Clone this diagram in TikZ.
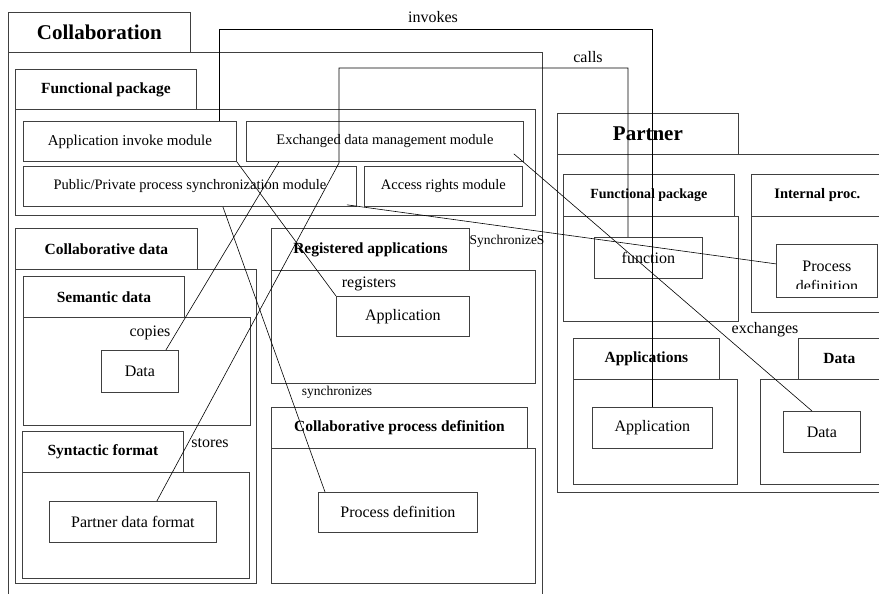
\documentclass[tikz,border=0pt]{standalone}
\usepackage{fontspec}
\setmainfont{Liberation Serif}
\usepackage{tikz}
\def\boxline{0.8pt}
\def\linkline{0.6pt}

\begin{document}
\begin{tikzpicture}[x=1pt, y=-1pt, wh/.style 2 args={minimum width=#1pt, minimum height=#2pt}]
			\tikzstyle{box}=[rectangle, draw=black!75, line width=\boxline, inner sep=0pt, anchor=north west]
			\tikzstyle{title box}=[box, font=\bfseries\fontsize{21}{24}\selectfont]
			\tikzstyle{tab}=[box, font=\bfseries\fontsize{15.5}{18}\selectfont]
			\tikzstyle{body box}=[box]
			\tikzstyle{module}=[box, font=\fontsize{14.5}{17}\selectfont]
			\tikzstyle{item}=[box, font=\fontsize{16}{19}\selectfont]
			\tikzstyle{link}=[draw=black, line width=\linkline]
			\tikzstyle{annot}=[inner sep=0pt, font=\fontsize{16}{19}\selectfont]
			\tikzstyle{small annot}=[annot, font=\fontsize{13.5}{16}\selectfont]

			\useasboundingbox (0,0) rectangle (879,594);
			\clip (0,0) rectangle (879,594);

			% Collaboration side
			\node[title box, wh={182}{40}] (collab) at (8,12) {Collaboration};
			\node[body box, wh={534}{600}] (collab-body) at (8,52) {};
			\node[tab, wh={181}{40}] (fp-tab) at (15,69) {Functional package};
			\node[body box, wh={520}{106}] (fp-body) at (15,109) {};
			\node[module, wh={213}{40}, font=\fontsize{15}{18}\selectfont] (invoke) at (23,121) {Application invoke module};
			\node[module, wh={277}{40}] (exch) at (246,121) {Exchanged data management module};
			\node[module, wh={333}{40}] (sync) at (23,166) {Public/Private process synchronization module};
			\node[module, wh={158}{40}] (rights) at (364,166) {Access rights module};

			% Collaborative data
			\node[tab, wh={182}{41}] (cd-tab) at (15,228) {Collaborative data};
			\node[body box, wh={241}{314}] (cd-body) at (15,269) {};
			\node[tab, wh={161}{41}] (sem-tab) at (23,276) {Semantic data};
			\node[body box, wh={227}{108}] (sem-body) at (23,317) {};
			\node[item, wh={77}{42}] (sem-data) at (101,350) {Data};
			\node[tab, wh={161}{41}] (syn-tab) at (22,431) {Syntactic format};
			\node[body box, wh={227}{106}] (syn-body) at (22,472) {};
			\node[item, wh={167}{41}] (format) at (49,501) {Partner data format};

			% Registered applications and process definition
			\node[tab, wh={198}{42}] (reg-tab) at (271,228) {Registered applications};
			\node[body box, wh={264}{113}] (reg-body) at (271,270) {};
			\node[item, wh={133}{40}] (reg-app) at (336,296) {Application};
			\node[tab, wh={256}{41}] (cpd-tab) at (271,407) {Collaborative process definition};
			\node[body box, wh={264}{135}] (cpd-body) at (271,448) {};
			\node[item, wh={159}{40}] (cpd-def) at (318,492) {Process definition};

			% Partner side
			\node[title box, wh={181}{41}] (partner) at (557,113) {Partner};
			\node[body box, wh={343}{338}] (partner-body) at (557,154) {};
			\node[tab, wh={171}{42}, font=\bfseries\fontsize{14}{17}\selectfont] (pfp-tab) at (563,174) {Functional package};
			\node[body box, wh={175}{105}] (pfp-body) at (563,216) {};
			\node[item, wh={108}{41}] (function) at (594,237) {function};
			\node[tab, wh={132}{42}, font=\bfseries\fontsize{14.5}{17}\selectfont] (ip-tab) at (751,174) {Internal proc.};
			\node[body box, wh={132}{96}] (ip-body) at (751,216) {};
			\node[item, wh={101}{53}] (ip-def) at (776,244) {};
			\begin{scope}
				\clip (ip-def.north west) rectangle ([yshift=9.5pt]ip-def.south east);
				\node[annot, align=center, font=\fontsize{16}{20}\selectfont] at ([yshift=-5.5pt]ip-def.center) {Process\\definition};
			\end{scope}
			\node[tab, wh={146}{41}] (apps-tab) at (573,338) {Applications};
			\node[body box, wh={164}{105}] (apps-body) at (573,379) {};
			\node[item, wh={120}{41}] (apps-app) at (592,407) {Application};
			\node[tab, wh={82}{41}] (data-tab) at (798,338) {Data};
			\node[body box, wh={122}{105}] (data-body) at (760,379) {};
			\node[item, wh={77}{41}] (data-box) at (783,411) {Data};

			% Connect the modules with what they act on
			\coordinate (inv-bend) at (219,29);
			\draw[link] (inv-bend |- invoke.north) -- (inv-bend) -| (apps-app.north);
			\coordinate (call-low) at (339,163);
			\coordinate (call-high) at (628,68);
			\draw[link] ([xshift=24pt]format.north) -- (call-low) |- (call-high) -- (call-high |- function.north);
			\draw[link] ([xshift=26pt]sem-data.north) -- ([xshift=33pt]exch.south west);
			\draw[link] (invoke.south east) -- (reg-app.north west);
			\draw[link] ([xshift=33pt]sync.south) -- ([xshift=7pt]cpd-def.north west);
			\draw[link] ([xshift=-10pt,yshift=2pt]sync.south east) -- ([yshift=7pt]ip-def.west);
			\draw[link] ([xshift=-10pt,yshift=8pt]exch.south east) -- ([xshift=29pt]data-box.north west);

			% Annotate the connectors
			\node[annot] (l-invokes) at (433,17) {invokes};
			\node[annot] (l-calls) at (588,57) {calls};
			\node[small annot] (l-sync-p) at (507,241) {SynchronizeS};
			\node[annot] (l-registers) at (369,284) {registers};
			\node[annot] (l-copies) at (150,333) {copies};
			\node[annot] (l-stores) at (210,443) {stores};
			\node[small annot] (l-sync-c) at (337,392) {synchronizes};
			\node[annot] (l-exchanges) at (765,330) {exchanges};
\end{tikzpicture}
\end{document}
